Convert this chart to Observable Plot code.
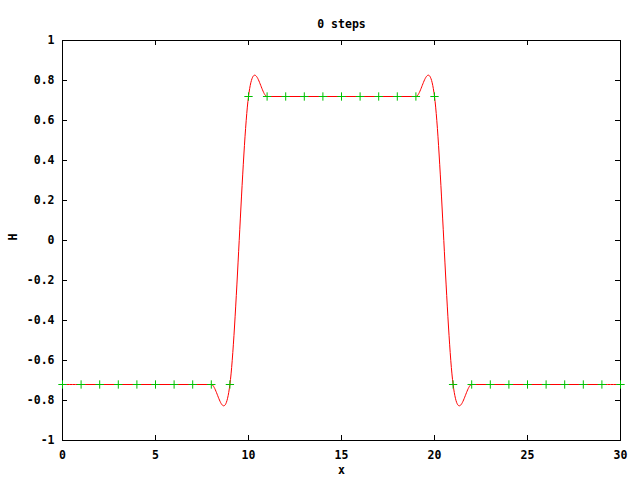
<!DOCTYPE html>
<html><head><meta charset="utf-8">
<script src="https://cdn.jsdelivr.net/npm/d3@7"></script>
<script src="https://cdn.jsdelivr.net/npm/@observablehq/plot@0.6"></script>
<style>body{margin:0;background:#fff} svg{display:block}</style>
</head><body><div id="chart"></div>
<script>
const title = "0 steps";
const xLabel = "x";
const yLabel = "H";
const xs = [0,1,2,3,4,5,6,7,8,9,10,11,12,13,14,15,16,17,18,19,20,21,22,23,24,25,26,27,28,29,30];
const H = [-0.72,-0.72,-0.72,-0.72,-0.72,-0.72,-0.72,-0.72,-0.72,-0.72,
           0.72,0.72,0.72,0.72,0.72,0.72,0.72,0.72,0.72,0.72,0.72,
           -0.72,-0.72,-0.72,-0.72,-0.72,-0.72,-0.72,-0.72,-0.72,-0.72];
const xTicks = [0,5,10,15,20,25,30];
const yTicks = [-1,-0.8,-0.6,-0.4,-0.2,0,0.2,0.4,0.6,0.8,1];

const data = xs.map((x,i) => ({x, H: H[i]}));
const fmt = d => String(+(+d).toFixed(1));
const font = "'DejaVu Sans Mono', monospace";

const chart = Plot.plot({
  width: 640, height: 480,
  marginLeft: 62, marginRight: 20, marginTop: 40, marginBottom: 40,
  style: {fontFamily: font, fontSize: "11.5px", fontWeight: "bold", background: "#fff", color: "#000"},
  x: {domain: [0, 30]},
  y: {domain: [-1, 1]},
  marks: [
    Plot.frame({stroke: "#000"}),
    Plot.axisX({ticks: xTicks, tickSize: 0, tickPadding: 10, tickFormat: fmt, label: null, fontSize: 11.5}),
    Plot.axisY({ticks: yTicks, tickSize: 0, tickPadding: 8, tickFormat: fmt, label: null, fontSize: 11.5}),
    Plot.tickX(xTicks, {x: d => d, stroke: "#000", insetTop: 395}),
    Plot.tickX(xTicks, {x: d => d, stroke: "#000", insetBottom: 395}),
    Plot.tickY(yTicks, {y: d => d, stroke: "#000", insetRight: 553}),
    Plot.tickY(yTicks, {y: d => d, stroke: "#000", insetLeft: 553}),
    Plot.line(data, {x: "x", y: "H", curve: "cardinal", tension: 0, stroke: "#ff0000", strokeWidth: 1}),
    Plot.dot(data, {x: "x", y: "H", symbol: "plus", r: 2.8, stroke: "#00c000", strokeWidth: 1}),
    Plot.text([title], {frameAnchor: "top", dy: -21, text: d => d, fontSize: 11.5, fontWeight: "bold"}),
    Plot.text([xLabel], {frameAnchor: "bottom", dy: 33, text: d => d, fontSize: 11.5, fontWeight: "bold"}),
    Plot.text([yLabel], {frameAnchor: "left", dx: -49, rotate: -90, text: d => d, fontSize: 11.5, fontWeight: "bold"})
  ]
});
document.getElementById("chart").appendChild(chart);
</script>
</body></html>
